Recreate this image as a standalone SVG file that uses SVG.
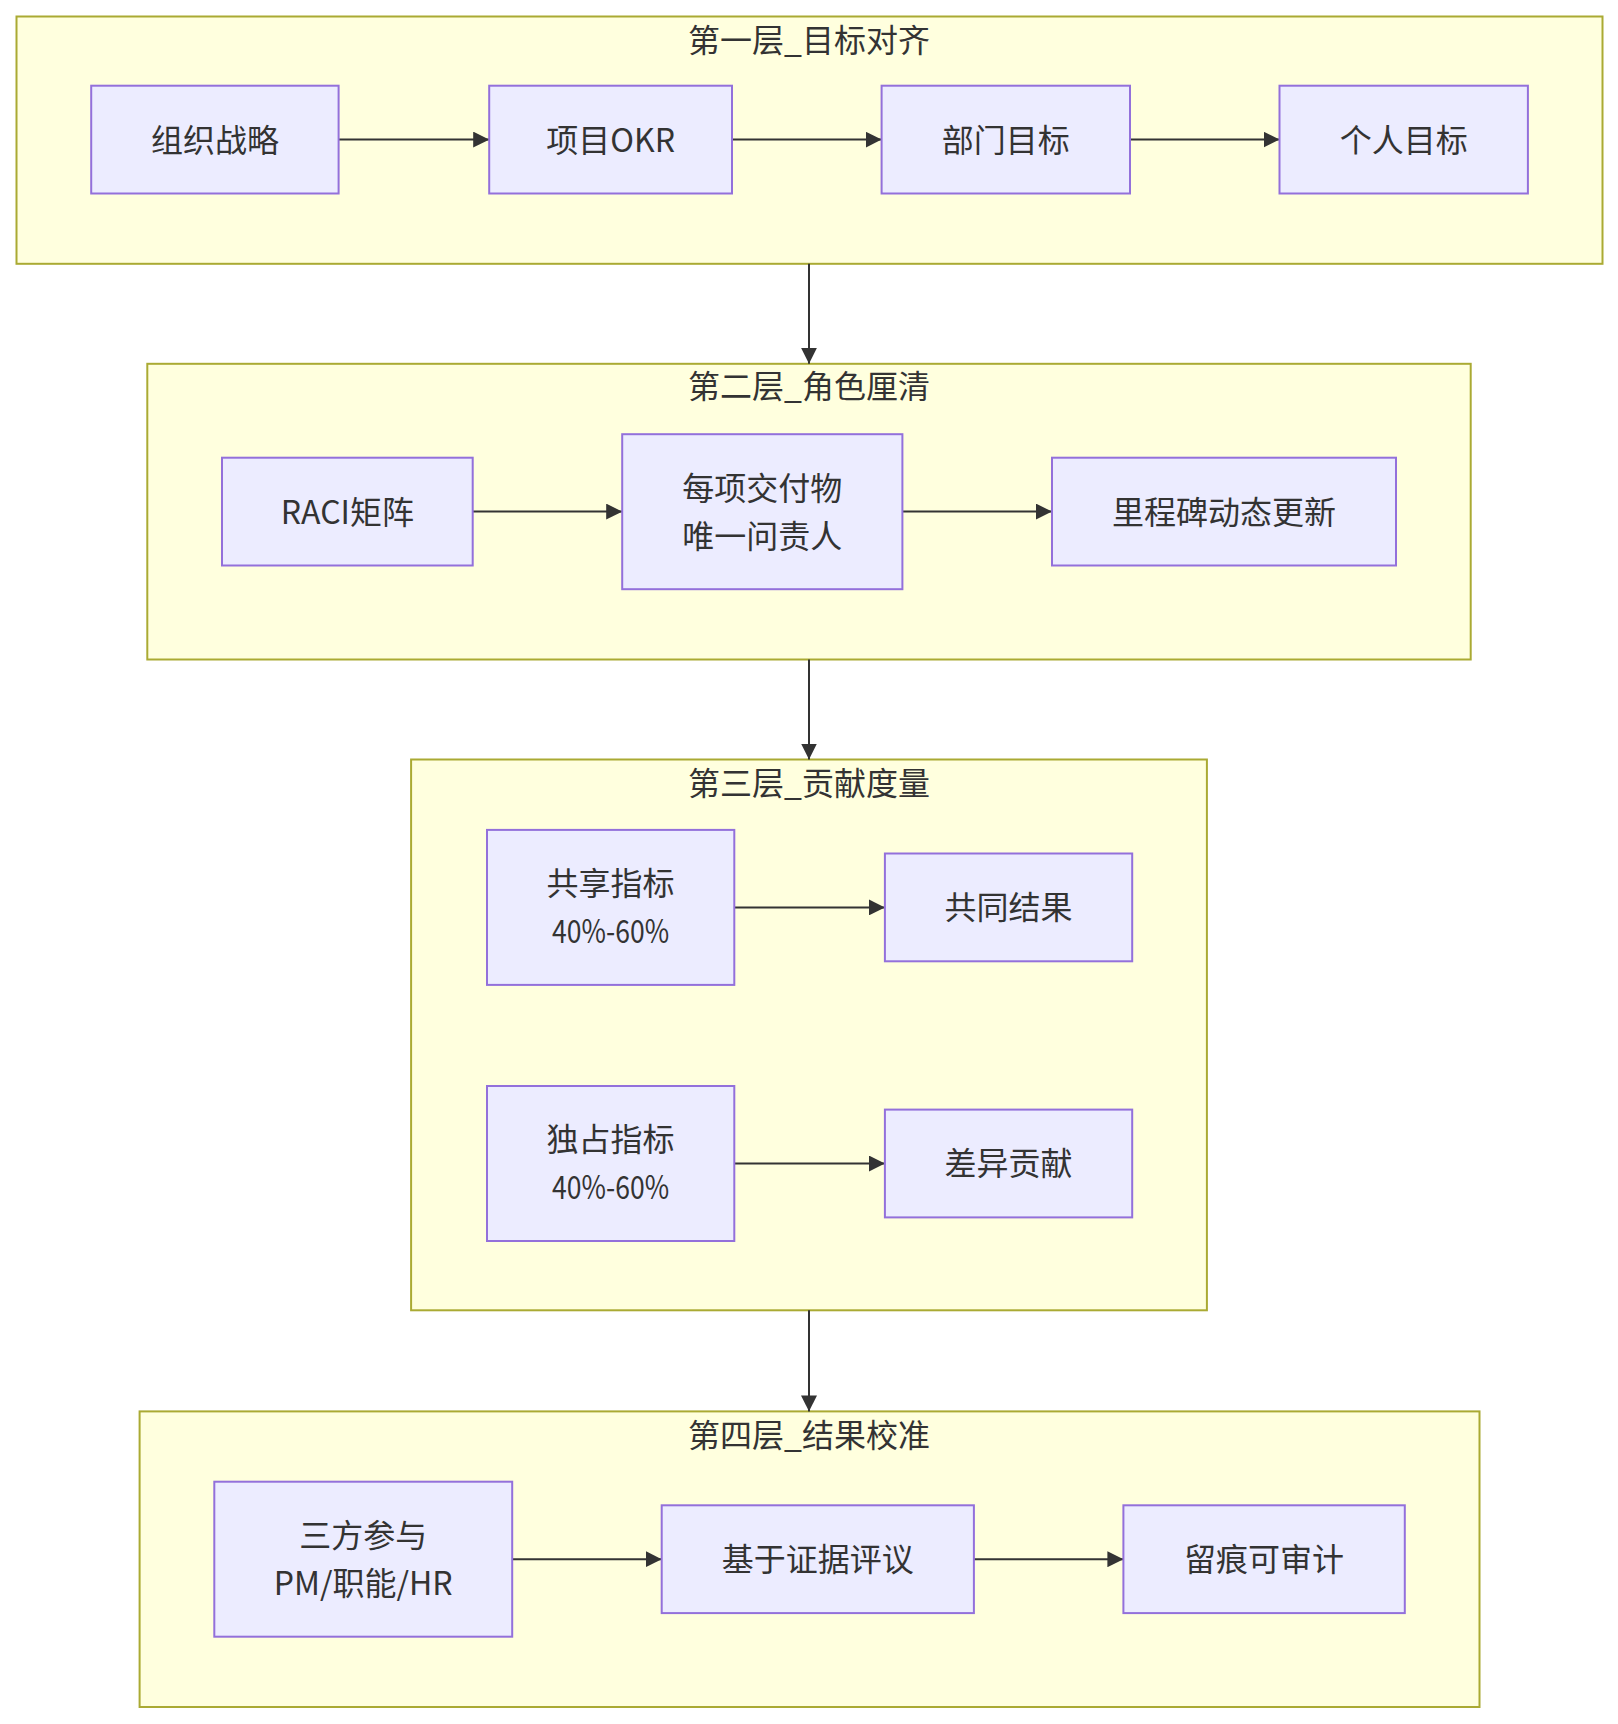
<svg xmlns="http://www.w3.org/2000/svg" width="1618" height="1724" viewBox="0 0 1618 1724">
<style>
.cluster{fill:#ffffde;stroke:#aaaa33;stroke-width:2}
.node rect{fill:#ececff;stroke:#9370db;stroke-width:2}
text{font-family:"Noto Sans CJK SC","Noto Sans",sans-serif;font-size:32px;fill:#333;text-anchor:middle;dominant-baseline:central}
.edge{stroke:#333;stroke-width:2;fill:none;marker-end:url(#arrow)}
</style>
<defs>
<marker id="arrow" viewBox="0 0 10 10" refX="10" refY="5" markerWidth="16" markerHeight="16" markerUnits="userSpaceOnUse" orient="auto">
<path d="M0,0 L10,5 L0,10 z" fill="#333"/>
</marker>
</defs>
<rect x="0" y="0" width="1618" height="1724" fill="#fff"/>
<g id="clusters">
<g id="layer1"><rect class="cluster" x="16.5" y="16.5" width="1586" height="247.3"/><text x="809" y="37.5">第一层_目标对齐</text></g>
<g id="layer2"><rect class="cluster" x="147.3" y="363.8" width="1323.4" height="295.7"/><text x="809" y="384">第二层_角色厘清</text></g>
<g id="layer3"><rect class="cluster" x="411.1" y="759.5" width="795.8" height="550.8"/><text x="809" y="780.5">第三层_贡献度量</text></g>
<g id="layer4"><rect class="cluster" x="139.6" y="1411.4" width="1339.9" height="295.6"/><text x="809" y="1432.5">第四层_结果校准</text></g>
</g>
<g id="edges">
<path class="edge" d="M338.6,139.6 H489.2"/>
<path class="edge" d="M732,139.6 H881.6"/>
<path class="edge" d="M1130,139.6 H1279.5"/>
<path class="edge" d="M472.7,511.6 H622.2"/>
<path class="edge" d="M902.4,511.6 H1052"/>
<path class="edge" d="M734.3,907.4 H884.9"/>
<path class="edge" d="M734.3,1163.5 H884.9"/>
<path class="edge" d="M512.2,1559.2 H661.7"/>
<path class="edge" d="M973.9,1559.2 H1123.4"/>
<path class="edge" d="M809,263.8 V363.8"/>
<path class="edge" d="M809,659.5 V759.5"/>
<path class="edge" d="M809,1310.3 V1411.4"/>
</g>
<g id="n_strategy" class="node"><rect x="91.2" y="85.7" width="247.4" height="107.8"/><text x="214.9" y="137.5">组织战略</text></g>
<g id="n_okr" class="node"><rect x="489.2" y="85.7" width="242.8" height="107.8"/><text x="610.6" y="137.5">项目OKR</text></g>
<g id="n_dept" class="node"><rect x="881.6" y="85.7" width="248.4" height="107.8"/><text x="1005.8" y="137.5">部门目标</text></g>
<g id="n_personal" class="node"><rect x="1279.5" y="85.7" width="248.4" height="107.8"/><text x="1403.7" y="137.5">个人目标</text></g>
<g id="n_raci" class="node"><rect x="222" y="457.7" width="250.7" height="107.8"/><text x="347.4" y="509.5">RACI矩阵</text></g>
<g id="n_owner" class="node"><rect x="622.2" y="434.2" width="280.2" height="155"/><text x="762.3" y="485.6">每项交付物</text><text x="762.3" y="533.6">唯一问责人</text></g>
<g id="n_milestone" class="node"><rect x="1052" y="457.7" width="344" height="107.8"/><text x="1224" y="509.5">里程碑动态更新</text></g>
<g id="n_shared" class="node"><rect x="487" y="829.9" width="247.3" height="155"/><text x="610.6" y="881.3">共享指标</text><text x="610.6" y="929.3" textLength="117" lengthAdjust="spacingAndGlyphs">40%-60%</text></g>
<g id="n_common" class="node"><rect x="884.9" y="853.5" width="247.3" height="107.8"/><text x="1008.5" y="905.3">共同结果</text></g>
<g id="n_exclusive" class="node"><rect x="487" y="1086" width="247.3" height="155"/><text x="610.6" y="1137.4">独占指标</text><text x="610.6" y="1185.4" textLength="117" lengthAdjust="spacingAndGlyphs">40%-60%</text></g>
<g id="n_diff" class="node"><rect x="884.9" y="1109.6" width="247.3" height="107.8"/><text x="1008.5" y="1161.4">差异贡献</text></g>
<g id="n_three" class="node"><rect x="214.3" y="1481.7" width="297.9" height="155"/><text x="363.2" y="1533.1">三方参与</text><text x="363.2" y="1581.1">PM/职能/HR</text></g>
<g id="n_evidence" class="node"><rect x="661.7" y="1505.3" width="312.2" height="107.8"/><text x="817.8" y="1557.1">基于证据评议</text></g>
<g id="n_audit" class="node"><rect x="1123.4" y="1505.3" width="281.4" height="107.8"/><text x="1264.1" y="1557.1">留痕可审计</text></g>
</svg>
